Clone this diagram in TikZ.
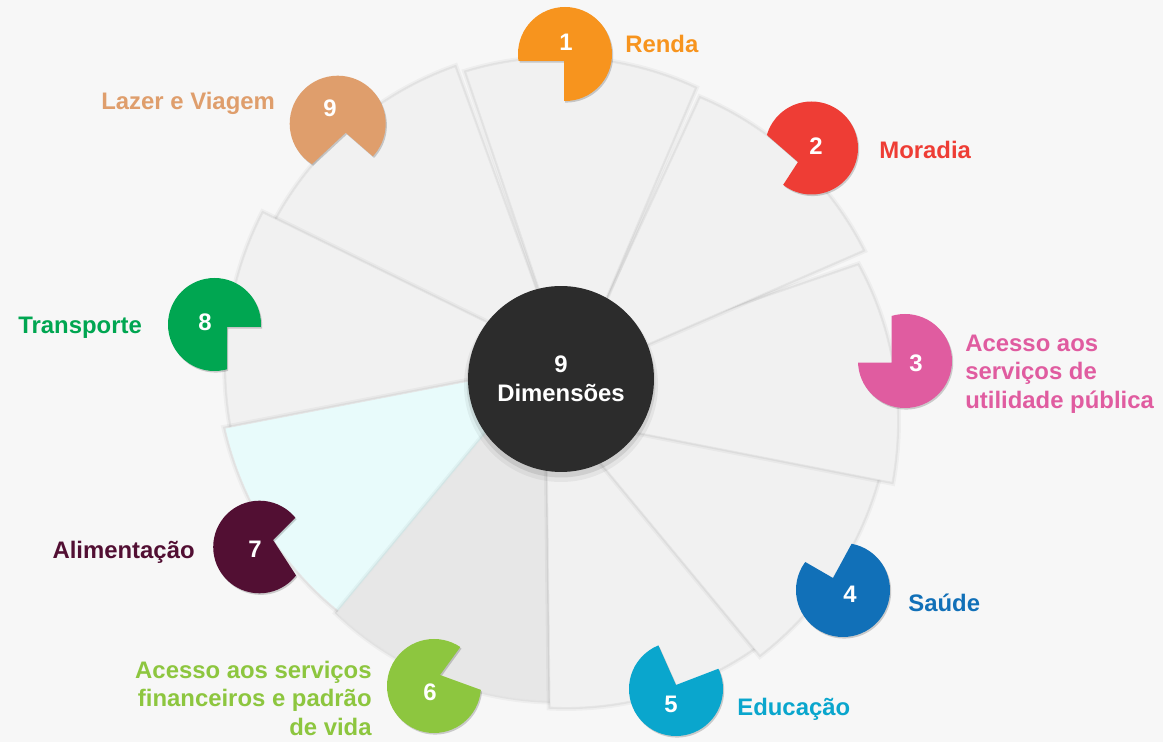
\documentclass[tikz,border=0pt]{standalone}
\usepackage{fontspec}
\setmainfont{Liberation Sans}
\usepackage{tikz}
\usetikzlibrary{calc}
\definecolor{fond}{HTML}{F7F7F7}
\definecolor{part}{HTML}{F1F1F1}
\definecolor{partgris}{HTML}{E7E7E7}
\definecolor{partcyan}{HTML}{E8FBFB}
\definecolor{noyau}{HTML}{2C2C2C}
\definecolor{c1}{HTML}{F7941E}
\definecolor{c2}{HTML}{EE3D35}
\definecolor{c3}{HTML}{E05CA0}
\definecolor{c4}{HTML}{1170B8}
\definecolor{c5}{HTML}{0AA6CD}
\definecolor{c6}{HTML}{8DC63F}
\definecolor{c7}{HTML}{520F33}
\definecolor{c8}{HTML}{00A651}
\definecolor{c9}{HTML}{DF9E6C}

% secteur : style, point interieur, angle/rayon debut, angle/rayon fin, point interieur
\newcommand{\secteur}[7]{%
  \path[#1] #2 -- plot[domain=#3:#5, samples=36, variable=\ang]
    ({561+(#4+(#6-#4)*(\ang-(#3))/(#5-(#3)))*cos(\ang)},
     {381+(#4+(#6-#4)*(\ang-(#3))/(#5-(#3)))*sin(\ang)}) -- #7 -- cycle;}

% pastille : centre, rayon, sommet de l'encoche, angles de l'encoche, couleur
\newcommand{\pastille}[6]{%
  \begin{scope}[shift={(1.2,1.6)}]
    \clip #1 circle (#2);
    \fill[black, opacity=0.18, even odd rule] #1 circle (#2+4) #3 -- +(#4:250) -- +(#5:250) -- cycle;
  \end{scope}
  \begin{scope}
    \clip #1 circle (#2);
    \fill[#6, even odd rule] #1 circle (#2+4) #3 -- +(#4:250) -- +(#5:250) -- cycle;
  \end{scope}}

\begin{document}
\begin{tikzpicture}[x=0.02cm, y=-0.02cm,
    texte/.style={font=\fontsize{13.6}{16.4}\selectfont\bfseries, inner sep=0pt},
    num/.style={texte, text=white},
    ombre/.style={preaction={draw=black, draw opacity=0.035, line width=4pt},
                  preaction={draw=black, draw opacity=0.05, line width=2pt}},
    sect/.style={ombre, fill=part, draw=black!10, line width=0.4pt},
    sectgris/.style={sect, fill=partgris},
    sectcyan/.style={sect, fill=partcyan}]

    % Fond et cadre
    \fill[fond] (0,0) rectangle (1163,742);
    \useasboundingbox (0,0) rectangle (1163,742);

    % Les neuf secteurs, du dessous vers le dessus
    \secteur{sect}{(510,355)}{205}{327}{251.35}{331.4}{(546,317.5)}
    \secteur{sect}{(505,395)}{168}{332}{209.4}{342.1}{(525,341.6)}
    \secteur{sectcyan}{(515,420)}{130}{318}{172}{339.3}{(506,374)}
    \secteur{sectgris}{(560,440)}{87}{320}{134}{322.5}{(508,407)}
    \secteur{sect}{(600,445)}{50}{330}{91.9}{326.2}{(547,430)}
    \secteur{sect}{(610,415)}{12}{331}{54}{338.6}{(578,435)}
    \secteur{sect}{(625,345)}{-21.3}{318.8}{17}{346.1}{(600,425)}
    \secteur{sect}{(598,320)}{-63.8}{315.3}{-23.4}{329.2}{(612,359.4)}
    \secteur{sect}{(550,320)}{-107.1}{323.3}{-65.4}{322.2}{(595,323)}

    % Disque central
    \fill[black, opacity=0.05] (561,385) circle (97);
    \fill[black, opacity=0.09] (561,383) circle (94.5);
    \node[circle, fill=noyau, minimum size=3.72cm, inner sep=0pt, align=center, num] (centre) at (561,379) {9\\Dimensões};

    % Pastilles numerotees
    \pastille{(565,54)}{47}{(564,61)}{90}{180}{c1}
    \pastille{(811.5,148)}{46.5}{(798,162)}{123}{221}{c2}
    \pastille{(905,361)}{47}{(891.6,362.7)}{180}{270}{c3}
    \pastille{(843,590)}{47}{(833,578)}{210}{298.5}{c4}
    \pastille{(676,689)}{47}{(676,685)}{246}{339}{c5}
    \pastille{(434,686)}{47}{(440,675)}{306}{380}{c6}
    \pastille{(259.5,547)}{46.3}{(273,540)}{315}{417}{c7}
    \pastille{(214.5,324.5)}{46.5}{(227,327)}{0}{90}{c8}
    \pastille{(337.7,123.7)}{48}{(345.7,132.7)}{41}{137}{c9}

    \node[num] (n1) at (566,42) {1};
    \node[num] (n2) at (816,146) {2};
    \node[num] (n3) at (916,363) {3};
    \node[num] (n4) at (850,594) {4};
    \node[num] (n5) at (671,704) {5};
    \node[num] (n6) at (430,692) {6};
    \node[num] (n7) at (255,549) {7};
    \node[num] (n8) at (205,322) {8};
    \node[num] (n9) at (330,108) {9};

    % Intitules des dimensions
    \node[texte, text=c1, anchor=base west] (renda) at (625,52.6) {Renda};
    \node[texte, text=c2, anchor=base west] (moradia) at (879,158.6) {Moradia};
    \node[texte, text=c3, anchor=north west, align=left] (servicos) at (965,334.4) {Acesso aos\\serviços de\\utilidade pública};
    \node[texte, text=c4, anchor=base west] (saude) at (908,611.6) {Saúde};
    \node[texte, text=c5, anchor=base west] (educacao) at (737,715.6) {Educação};
    \node[texte, text=c6, anchor=north east, align=right] (financeiros) at (372,660.4) {Acesso aos serviços\\financeiros e padrão\\de vida};
    \node[texte, text=c7, anchor=base east] (alimentacao) at (195,558.6) {Alimentação};
    \node[texte, text=c8, anchor=base west] (transporte) at (18,333.6) {Transporte};
    \node[texte, text=c9, anchor=base west] (lazer) at (101,109.6) {Lazer e Viagem};
\end{tikzpicture}
\end{document}
